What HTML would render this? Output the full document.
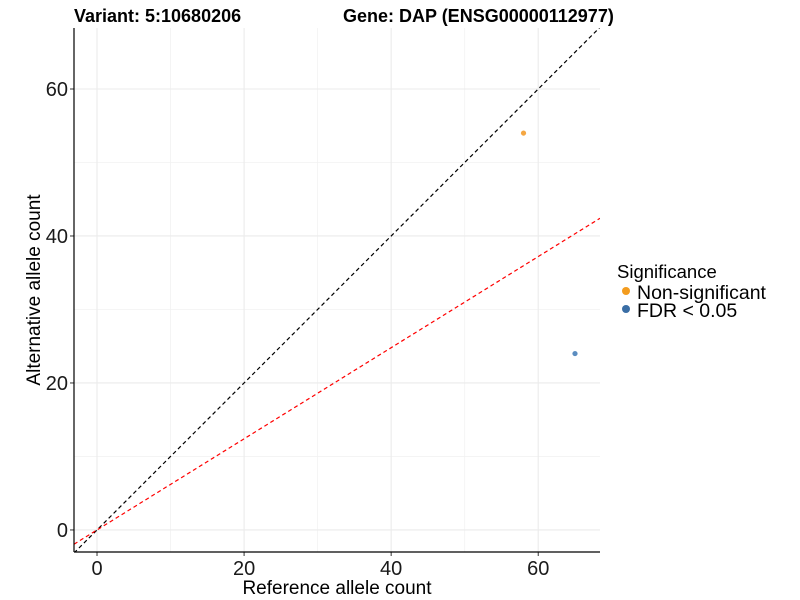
<!DOCTYPE html>
<html><head><meta charset="utf-8"><style>
body{margin:0;background:#fff;font-family:"Liberation Sans",sans-serif}
svg{display:block}
</style></head><body>
<svg id="chart" width="800" height="600">
<text x="74" y="22" font-size="18" font-weight="bold">Variant: 5:10680206<tspan x="343">Gene: DAP (ENSG00000112977)</tspan></text>
<g id="grid"></g>
<g id="lines"></g>
<g id="points"></g>
<g id="axes"></g>
<text x="337" y="594" font-size="19" text-anchor="middle">Reference allele count</text>
<text transform="translate(40,290) rotate(-90)" font-size="19" text-anchor="middle">Alternative allele count</text>
<g>
<text x="617" y="278" font-size="18.5">Significance</text>
<circle cx="626" cy="291" r="4" fill="#f39c1f"/>
<text x="637" y="299" font-size="19.5">Non-significant</text>
<circle cx="626" cy="309" r="4" fill="#3a6ea5"/>
<text x="637" y="317" font-size="19.5">FDR &lt; 0.05</text>
</g>
</svg>
<script>
const xValues=[58,65];
const yValues=[54,24];
const groups=["Non-significant","FDR < 0.05"];
const majorTicks=[0,20,40,60];
const minorTicks=[10,30,50];
const fitSlope=0.62;
const fitIntercept=0;
const colors={"Non-significant":"#f5a742","FDR < 0.05":"#5b8dc0"};
const X0=74,X1=600,Y0=28,Y1=552;
const xmin=-3.13,xmax=68.4,ymin=-3.0,ymax=68.3;
const sx=v=>X0+(v-xmin)/(xmax-xmin)*(X1-X0);
const sy=v=>Y1-(v-ymin)/(ymax-ymin)*(Y1-Y0);
const NS="http://www.w3.org/2000/svg";
function mk(p,t,a){const e=document.createElementNS(NS,t);for(const k in a)e.setAttribute(k,a[k]);p.appendChild(e);return e;}
const grid=document.getElementById('grid'),axes=document.getElementById('axes');
minorTicks.forEach(t=>{
 let l=mk(grid,'line',{x1:sx(t),x2:sx(t),y1:Y0,y2:Y1,stroke:'#f2f2f2','stroke-width':0.8});
 
 l=mk(grid,'line',{x1:X0,x2:X1,y1:sy(t),y2:sy(t),stroke:'#f2f2f2','stroke-width':0.8});
 
});
majorTicks.forEach(t=>{
 let l=mk(grid,'line',{x1:sx(t),x2:sx(t),y1:Y0,y2:Y1,stroke:'#ebebeb','stroke-width':1.1});
 
 l=mk(grid,'line',{x1:X0,x2:X1,y1:sy(t),y2:sy(t),stroke:'#ebebeb','stroke-width':1.1});
 
 let tk=mk(axes,'line',{x1:sx(t),x2:sx(t),y1:Y1,y2:Y1+4,stroke:'#333'});
 
 let tx=mk(axes,'text',{x:sx(t),y:Y1+23,'font-size':20,'text-anchor':'middle',fill:'#1a1a1a'});tx.textContent=t;
 
 tk=mk(axes,'line',{x1:X0-4,x2:X0,y1:sy(t),y2:sy(t),stroke:'#333'});
 
 tx=mk(axes,'text',{x:X0-6,y:sy(t)+7,'font-size':20,'text-anchor':'end',fill:'#1a1a1a'});tx.textContent=t;
 
});
const lines=document.getElementById('lines');
const cp=mk(document.getElementById('chart'),'clipPath',{id:'clip'});mk(cp,'rect',{x:X0,y:Y0,width:X1-X0,height:Y1-Y0});
lines.setAttribute('clip-path','url(#clip)');
let ln=mk(lines,'line',{x1:sx(xmin),y1:sy(xmin),x2:sx(xmax),y2:sy(xmax),stroke:'#000','stroke-width':1.2,'stroke-dasharray':'4,3'});

ln=mk(lines,'line',{x1:sx(xmin),y1:sy(fitIntercept+fitSlope*xmin),x2:sx(xmax),y2:sy(fitIntercept+fitSlope*xmax),stroke:'#ff0000','stroke-width':1.2,'stroke-dasharray':'4,3'});

const pts=document.getElementById('points');
xValues.forEach((x,i)=>{
 const c=mk(pts,'circle',{cx:sx(x),cy:sy(yValues[i]),r:2.6,fill:colors[groups[i]]});
 
});
let a=mk(axes,'line',{x1:X0,x2:X0,y1:Y0,y2:Y1,stroke:'#000','stroke-width':1.2});

a=mk(axes,'line',{x1:X0,x2:X1,y1:Y1,y2:Y1,stroke:'#000','stroke-width':1.2});

</script>
</body></html>
